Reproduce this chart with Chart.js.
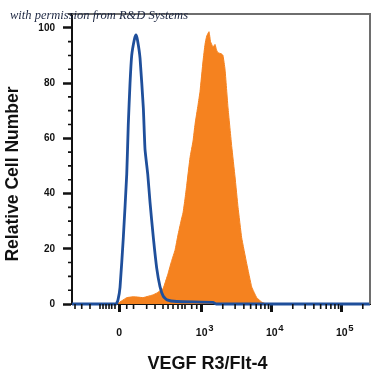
<!DOCTYPE html>
<html><head><meta charset="utf-8">
<script src="https://cdn.jsdelivr.net/npm/chart.js@4/dist/chart.umd.min.js"></script>
<style>html,body{margin:0;padding:0;background:#fff}</style>
</head><body>
<canvas id="c" width="375" height="375" style="display:block;width:375px;height:375px"></canvas>
<script>
// x positions are read in display (logicle decade) units: 10^3 = 3, 10^4 = 4, 10^5 = 5
const isotypeChannel = [1.147, 1.776, 1.804, 1.833, 1.880, 1.929, 1.951, 1.976, 2.000, 2.037, 2.061, 2.083, 2.119, 2.166, 2.190, 2.229, 2.261, 2.309, 2.357, 2.404, 2.451, 2.504, 2.643, 3.161, 3.204, 5.404];
const isotypeCount   = [0, 0, 1.5, 6, 24, 47, 65, 80, 90, 95.7, 97.4, 95.5, 89, 71, 56, 47, 37, 24, 13, 6.3, 2.8, 1.5, 0.9, 0.6, 0, 0];

const stainedChannel = [1.790, 1.861, 1.929, 2.019, 2.090, 2.161, 2.233, 2.304, 2.361, 2.404, 2.447, 2.476, 2.519, 2.571, 2.619, 2.661, 2.704, 2.733, 2.761, 2.786, 2.833, 2.876, 2.904, 2.947, 2.976, 3.019, 3.047, 3.071, 3.104, 3.126, 3.143, 3.161, 3.190, 3.211, 3.233, 3.286, 3.304, 3.333, 3.376, 3.429, 3.476, 3.519, 3.571, 3.643, 3.714, 3.786, 3.857, 3.919];
const stainedCount   = [0, 1.2, 2.3, 2.6, 2.5, 2.3, 2.8, 3.3, 4, 4.8, 5.5, 7.6, 11, 15.7, 19.5, 25, 30, 33, 38, 43, 53, 59, 65, 72, 77, 88, 94, 97, 98.6, 95, 94, 93, 94, 92, 91, 90.5, 90, 85, 71, 57, 46, 35, 24, 14.6, 6.2, 2.3, 0.7, 0];

const xMajorTicks = [1.82, 3, 4, 5];
const xMajorBase = ['0', '10', '10', '10'];
const xMajorExponent = ['', '3', '4', '5'];
const xMinorTicksLow = [1.190, 1.286, 1.404, 1.547, 1.590, 1.633, 1.676, 1.714, 1.761, 1.929, 2.026, 2.214, 2.333, 2.447, 2.519, 2.590, 2.661, 2.719, 2.761, 2.857, 2.929];
const yMajorTicks = [0, 20, 40, 60, 80, 100];
const yMinorTicks = [5, 10, 15, 25, 30, 35, 45, 50, 55, 65, 70, 75, 85, 90, 95, 105];

const xTitle = 'VEGF R3/Flt-4';
const yTitle = 'Relative Cell Number';
const watermark = 'with permission from R&D Systems';

const xMinorTicks = xMinorTicksLow.slice();
[3, 4].forEach(n => { for (let k = 2; k <= 9; k++) xMinorTicks.push(n + Math.log10(k)); });
xMinorTicks.push(5 + Math.log10(2));

const toPts = (xs, ys) => xs.map((x, i) => ({ x: x, y: ys[i] }));
const FONT = '"Liberation Sans", Arial, sans-serif';

const decor = {
  id: 'decor',
  afterDraw(chart) {
    const ctx = chart.ctx, a = chart.chartArea;
    const xs = chart.scales.x, ys = chart.scales.y;
    ctx.save();
    // top & right frame
    ctx.strokeStyle = '#6e6e6e'; ctx.lineWidth = 2;
    ctx.beginPath();
    ctx.moveTo(a.left, a.top); ctx.lineTo(a.right, a.top); ctx.lineTo(a.right, a.bottom);
    ctx.stroke();
    // minor ticks
    ctx.strokeStyle = '#111'; ctx.lineWidth = 1.6;
    ctx.beginPath();
    xMinorTicks.forEach(v => { const p = xs.getPixelForValue(v); ctx.moveTo(p, a.bottom); ctx.lineTo(p, a.bottom + 5); });
    yMinorTicks.forEach(v => { const p = ys.getPixelForValue(v); ctx.moveTo(a.left, p); ctx.lineTo(a.left - 4, p); });
    ctx.stroke();
    // exponents of the x tick labels
    ctx.fillStyle = '#111';
    ctx.textAlign = 'left'; ctx.textBaseline = 'alphabetic';
    ctx.font = 'bold 9.5px ' + FONT;
    xMajorTicks.forEach((v, i) => {
      if (xMajorExponent[i]) ctx.fillText(xMajorExponent[i], xs.getPixelForValue(v) + 6.5, 330.5);
    });
    // titles
    ctx.textAlign = 'center'; ctx.textBaseline = 'middle';
    ctx.font = 'bold 18px ' + FONT;
    ctx.fillText(xTitle, 207.5, 364.5);
    ctx.save();
    ctx.translate(13.5, 174);
    ctx.rotate(-Math.PI / 2);
    ctx.font = 'bold 17.5px ' + FONT;
    ctx.fillText(yTitle, 0, 0);
    ctx.restore();
    // watermark
    ctx.fillStyle = '#1b2540';
    ctx.textAlign = 'left'; ctx.textBaseline = 'alphabetic';
    ctx.font = 'italic 12.5px "Liberation Serif", "DejaVu Serif", serif';
    ctx.fillText(watermark, 10, 19);
    ctx.restore();
  }
};

new Chart(document.getElementById('c'), {
  type: 'line',
  data: {
    datasets: [
      { label: 'Isotype', data: toPts(isotypeChannel, isotypeCount), borderColor: '#1f4f9b', borderWidth: 2.8,
        fill: false, pointRadius: 0, tension: 0.15, order: 1, clip: false },
      { label: 'VEGF R3', data: toPts(stainedChannel, stainedCount), borderColor: '#f5821f', backgroundColor: '#f5821f',
        borderWidth: 1, fill: 'origin', pointRadius: 0, tension: 0.1, order: 2, clip: false }
    ]
  },
  options: {
    responsive: false, animation: false, devicePixelRatio: 1,
    layout: { padding: { top: 6, right: 5, left: 0, bottom: 0 } },
    plugins: { legend: { display: false }, tooltip: { enabled: false } },
    scales: {
      x: {
        type: 'linear', min: 1.147, max: 5.404, position: 'bottom',
        afterBuildTicks: s => { s.ticks = xMajorTicks.map(v => ({ value: v })); },
        afterFit: s => { s.height = 71; },
        ticks: { autoSkip: false, maxRotation: 0, padding: 15, color: '#111',
          font: { family: FONT, size: 10.5, weight: 'bold' },
          callback: (v, i) => xMajorBase[i] },
        grid: { drawOnChartArea: false, drawTicks: true, tickLength: 8, tickWidth: 3, tickColor: '#111' },
        border: { display: true, color: '#111', width: 2 }
      },
      y: {
        type: 'linear', min: 0, max: 105,
        afterBuildTicks: s => { s.ticks = yMajorTicks.map(v => ({ value: v })); },
        afterFit: s => { s.width = 72; },
        ticks: { padding: 8, color: '#111',
          font: { family: FONT, size: 10, weight: 'bold' } },
        grid: { drawOnChartArea: false, drawTicks: true, tickLength: 9, tickWidth: 2.5, tickColor: '#111' },
        border: { display: true, color: '#111', width: 2 }
      }
    }
  },
  plugins: [decor]
});
</script>
</body></html>
